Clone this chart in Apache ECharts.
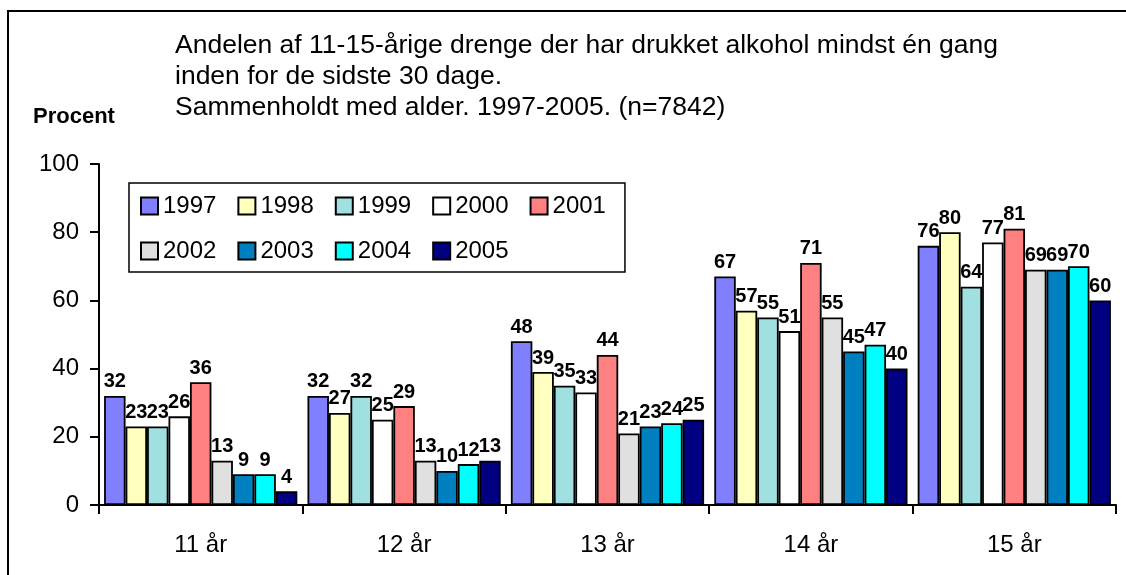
<!DOCTYPE html>
<html>
<head>
<meta charset="utf-8">
<script src="https://cdn.jsdelivr.net/npm/echarts@6/dist/echarts.min.js"></script>
<style>
    html, body { margin: 0; padding: 0; background: #fff; }
    #chart { width: 1126px; height: 575px; }
</style>
</head>
<body>
<div id="chart"></div>
<script>
// aldersgrupper og aargange
const categories = ['11 år', '12 år', '13 år', '14 år', '15 år'];
const years = ['1997', '1998', '1999', '2000', '2001', '2002', '2003', '2004', '2005'];
const colors = ['#8080ff', '#ffffc0', '#a0e0e0', '#ffffff', '#ff8080', '#e0e0e0', '#0080c0', '#00ffff', '#000080'];

// procent pr. aargang, en vaerdi pr. alder
const v1997 = [32, 32, 48, 67, 76];
const v1998 = [23, 27, 39, 57, 80];
const v1999 = [23, 32, 35, 55, 64];
const v2000 = [26, 25, 33, 51, 77];
const v2001 = [36, 29, 44, 71, 81];
const v2002 = [13, 13, 21, 55, 69];
const v2003 = [9, 10, 23, 45, 69];
const v2004 = [9, 12, 24, 47, 70];
const v2005 = [4, 13, 25, 40, 60];
const values = [v1997, v1998, v1999, v2000, v2001, v2002, v2003, v2004, v2005];

const yTicks = [0, 20, 40, 60, 80, 100];

const font = '"Liberation Sans", Arial, sans-serif';

let myChart = echarts.init(document.getElementById('chart'));

let series = years.map((y, i) => {
    return {
        name: y,
        type: 'bar',
        data: values[i],
        barGap: '0%',
        barCategoryGap: '5%',
        itemStyle: {
            color: colors[i],
            borderColor: '#000',
            borderWidth: 1.8
        },
        label: {
            show: true,
            position: 'top',
            distance: 4,
            color: '#000',
            fontFamily: font,
            fontWeight: 'bold',
            fontSize: 20
        }
    };
});

let option = {
    animation: false,
    backgroundColor: '#fff',
    title: {
        text: 'Andelen af 11-15-årige drenge der har drukket alkohol mindst én gang\n'
            + 'inden for de sidste 30 dage.\n'
            + 'Sammenholdt med alder. 1997-2005. (n=7842)',
        left: 175,
        top: 30,
        padding: 0,
        textStyle: {
            fontFamily: font,
            fontWeight: 'normal',
            fontSize: 26.5,
            lineHeight: 31,
            color: '#000'
        }
    },
    graphic: [
        {
            type: 'rect',
            shape: { x: 8, y: 11, width: 1140, height: 600 },
            style: { fill: null, stroke: '#000', lineWidth: 2 },
            silent: true
        },
        {
            type: 'text',
            left: 33,
            top: 106,
            style: {
                text: 'Procent',
                fontFamily: font,
                fontWeight: 'bold',
                fontSize: 22,
                fill: '#000'
            }
        }
    ],
    legend: {
        left: 129,
        top: 183,
        width: 470,
        padding: [11, 19, 9, 11],
        itemWidth: 17,
        itemHeight: 17,
        itemGap: 21,
        backgroundColor: '#fff',
        borderColor: '#000',
        borderWidth: 1.5,
        icon: 'rect',
        textStyle: {
            fontFamily: font,
            fontSize: 24,
            color: '#000'
        },
        data: years
    },
    grid: {
        left: 99,
        right: 10,
        top: 164,
        bottom: 70,
        containLabel: false
    },
    xAxis: {
        type: 'category',
        data: categories,
        axisLine: { lineStyle: { color: '#000', width: 2 } },
        axisTick: { show: true, interval: 0, length: 9, lineStyle: { color: '#000', width: 2 } },
        axisLabel: {
            margin: 28,
            color: '#000',
            fontFamily: font,
            fontSize: 24
        }
    },
    yAxis: {
        type: 'value',
        min: yTicks[0],
        max: yTicks[yTicks.length - 1],
        interval: 20,
        splitLine: { show: false },
        axisLine: { show: true, lineStyle: { color: '#000', width: 2 } },
        axisTick: { show: true, length: 9, lineStyle: { color: '#000', width: 2 } },
        axisLabel: {
            margin: 20,
            color: '#000',
            fontFamily: font,
            fontSize: 24
        }
    },
    series: series
};

myChart.setOption(option);
</script>
</body>
</html>
